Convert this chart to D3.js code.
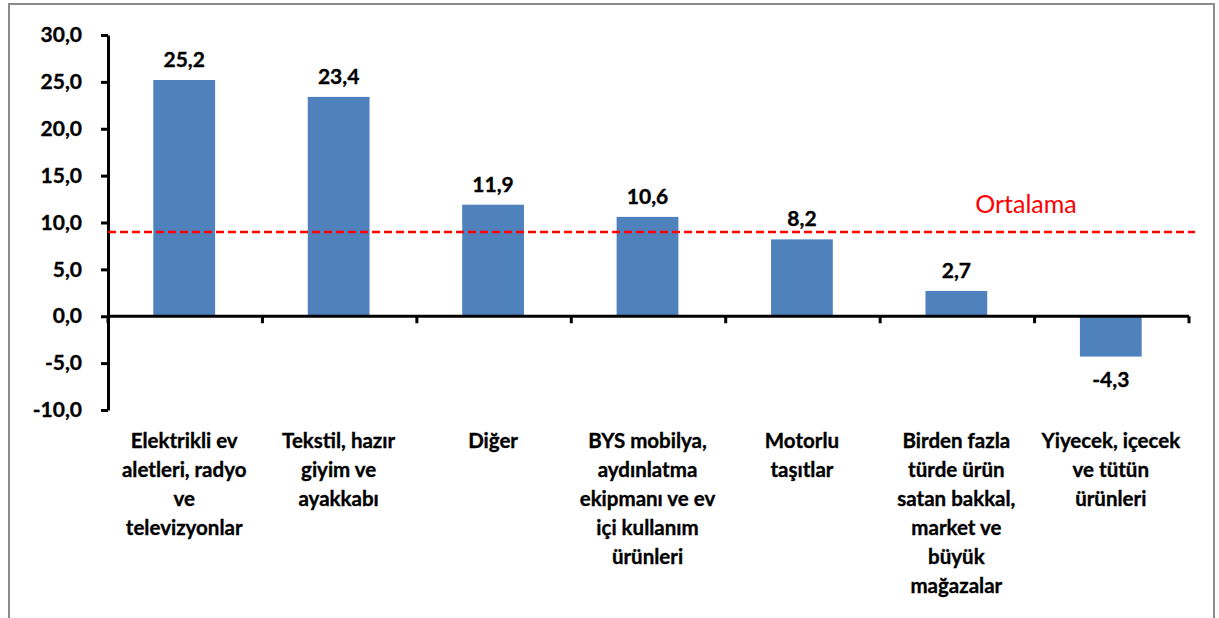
<!DOCTYPE html>
<html>
<head>
<meta charset="utf-8">
<script src="https://cdn.jsdelivr.net/npm/d3@7"></script>
<style>
  body { margin: 0; background: #fff; }
  svg { display: block; font-family: Lato, "Open Sans", sans-serif; }
  .heavy { stroke: #000; stroke-width: 0.35px; }
</style>
</head>
<body>
<svg id="chart" width="1219" height="618"></svg>
<script>
// category labels, already broken into lines as in the original
const categories = [
  ["Elektrikli ev", "aletleri, radyo", "ve", "televizyonlar"],
  ["Tekstil, hazır", "giyim ve", "ayakkabı"],
  ["Diğer"],
  ["BYS mobilya,", "aydınlatma", "ekipmanı ve ev", "içi kullanım", "ürünleri"],
  ["Motorlu", "taşıtlar"],
  ["Birden fazla", "türde ürün", "satan bakkal,", "market ve", "büyük", "mağazalar"],
  ["Yiyecek, içecek", "ve tütün", "ürünleri"]
];
const values = [25.2, 23.4, 11.9, 10.6, 8.2, 2.7, -4.3];
const average = 9.0;
const yTicks = [-10, -5, 0, 5, 10, 15, 20, 25, 30];

const margin = {left: 108, top: 35, right: 30, bottom: 208};
const width = 1189 - margin.left,
      height = 410 - margin.top;

const svg = d3.select("#chart");

// outer frame
svg.append("rect")
    .attr("x", 9).attr("y", 4)
    .attr("width", 1205).attr("height", 640)
    .attr("fill", "none")
    .attr("stroke", "#8c8c8c")
    .attr("stroke-width", 2);

const g = svg.append("g")
    .attr("transform", `translate(${margin.left},${margin.top})`);

const idx = d3.range(values.length);
const x = d3.scaleBand()
    .domain(idx)
    .range([0, width])
    .paddingInner(0.6)
    .paddingOuter(0.3);
const band = width / values.length;

const y = d3.scaleLinear()
    .domain([-10, 30])
    .range([height, 0]);

const fmt = v => d3.format(".1f")(v).replace(".", ",").replace("−", "-");

// bars
g.selectAll(".bar")
    .data(idx)
  .enter().append("rect")
    .attr("class", "bar")
    .attr("x", i => x(i) - 1)
    .attr("width", x.bandwidth())
    .attr("y", i => y(Math.max(0, values[i])))
    .attr("height", i => Math.abs(y(values[i]) - y(0)))
    .attr("fill", "#4f81bd");

// y axis
const yAxis = g.append("g")
    .call(d3.axisLeft(y).tickValues(yTicks).tickSize(7).tickSizeOuter(0).tickFormat(fmt));
yAxis.select(".domain").attr("stroke", "#000").attr("stroke-width", 3);
yAxis.selectAll(".tick line").attr("stroke", "#000").attr("stroke-width", 3);
yAxis.selectAll(".tick text")
    .attr("class", "heavy")
    .attr("x", -26)
    .attr("font-size", 21)
    .attr("font-weight", "bold")
    .attr("fill", "#000")
    .style("font-family", "Lato, sans-serif");

// x axis along zero, ticks at category boundaries
const xAxisG = g.append("g").attr("transform", `translate(0,${y(0)})`);
xAxisG.append("line")
    .attr("x1", 0).attr("x2", width)
    .attr("stroke", "#000").attr("stroke-width", 3);
xAxisG.selectAll(".xt")
    .data(d3.range(values.length + 1))
  .enter().append("line")
    .attr("x1", i => i * band).attr("x2", i => i * band)
    .attr("y1", 0).attr("y2", 7)
    .attr("stroke", "#000").attr("stroke-width", 3);

// value labels
g.selectAll(".val")
    .data(idx)
  .enter().append("text")
    .attr("class", "heavy")
    .attr("x", i => x(i) + x.bandwidth() / 2 - 1)
    .attr("y", i => values[i] >= 0 ? y(values[i]) - 13 : y(values[i]) + 30)
    .attr("text-anchor", "middle")
    .attr("font-size", 21)
    .attr("font-weight", "bold")
    .attr("fill", "#000")
    .text(i => fmt(values[i]));

// average line
g.append("line")
    .attr("x1", 0).attr("x2", width + 6)
    .attr("y1", y(average)).attr("y2", y(average))
    .attr("stroke", "#ff0000")
    .attr("stroke-width", 2.5)
    .attr("stroke-dasharray", "8,4");
g.append("text")
    .attr("x", 1026 - margin.left)
    .attr("y", y(average) - 19)
    .attr("text-anchor", "middle")
    .attr("font-size", 25)
    .attr("fill", "#ff0000")
    .text("Ortalama");

// category labels
const cat = g.selectAll(".cat")
    .data(idx)
  .enter().append("text")
    .attr("class", "heavy")
    .attr("text-anchor", "middle")
    .attr("font-size", 20.5)
    .attr("font-weight", "bold")
    .attr("fill", "#000");
cat.selectAll("tspan")
    .data(i => categories[i].map(l => ({i, l})))
  .enter().append("tspan")
    .attr("x", d => x(d.i) + x.bandwidth() / 2 - 1)
    .attr("y", (d, k) => 448 - margin.top + k * 29)
    .text(d => d.l);
</script>
</body>
</html>
